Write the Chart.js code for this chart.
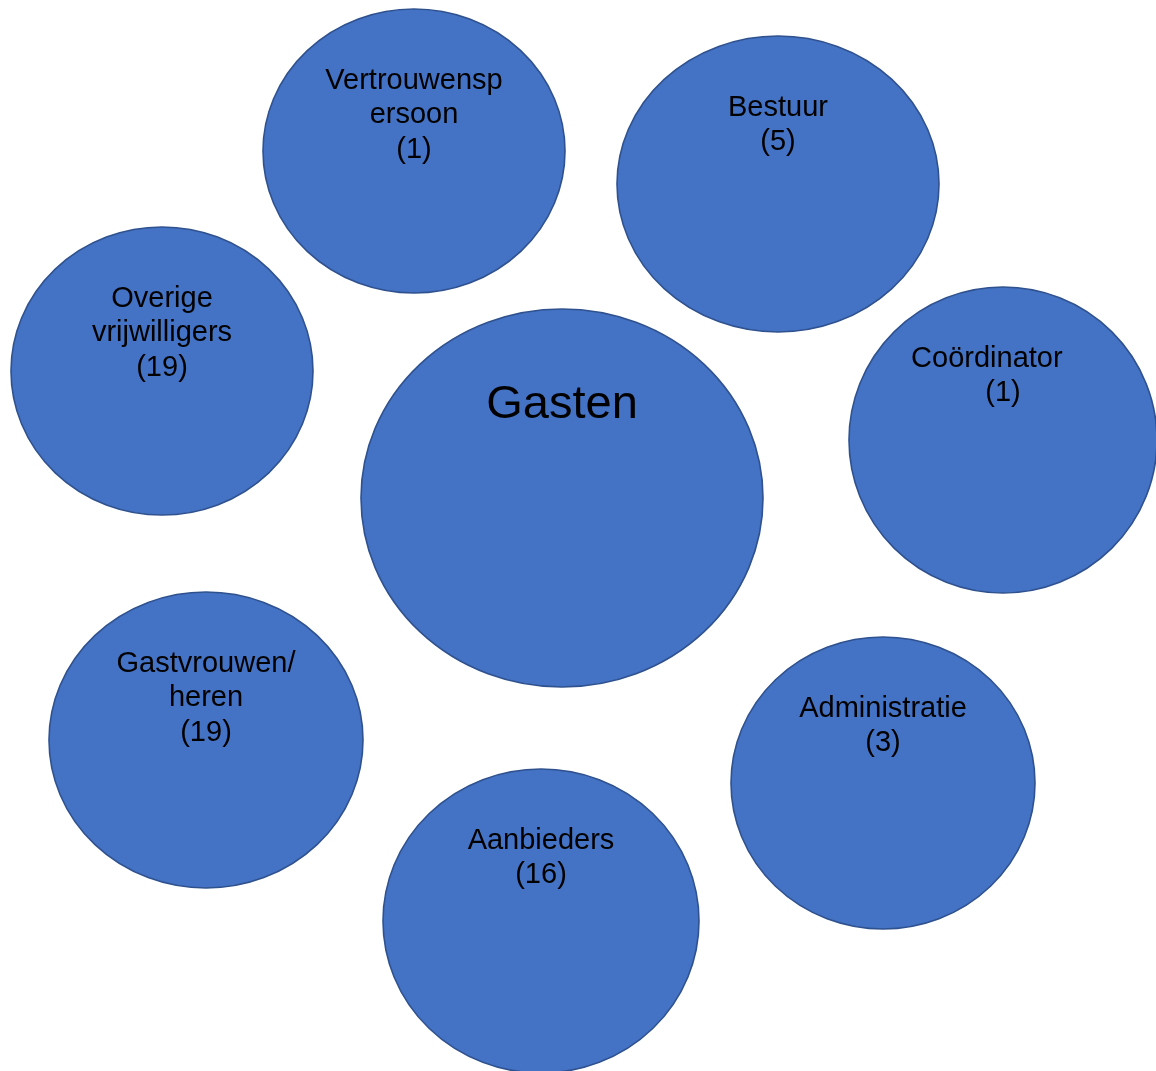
<!DOCTYPE html>
<html>
<head>
<meta charset="utf-8">
<script src="https://cdn.jsdelivr.net/npm/chart.js@4"></script>
<style>
  html, body { margin: 0; padding: 0; background: #fff; overflow: hidden; }
  #wrap { width: 1156px; height: 1071px; }
</style>
</head>
<body>
<div id="wrap"><canvas id="myChart" width="1156" height="1071"></canvas></div>
<script>
(() => {
  'use strict'

  // one bubble per group, in the picture's own units (x to the right, y down)
  const groups = ['Vertrouwenspersoon', 'Bestuur', 'Overige vrijwilligers', 'Gasten',
    'Coördinator', 'Gastvrouwen/heren', 'Administratie', 'Aanbieders']
  const counts = [1, 5, 19, null, 1, 19, 3, 16]
  const centerX = [414, 778, 162, 562, 1003, 206, 883, 541]
  const centerY = [151, 184, 371, 498, 440, 740, 783, 921]
  const radiusX = [151, 161, 151, 201, 154, 157, 152, 158]
  const radiusY = [142, 148, 144, 189, 153, 148, 146, 152]
  const labelLines = [
    ['Vertrouwensp', 'ersoon'],
    ['Bestuur'],
    ['Overige', 'vrijwilligers'],
    ['Gasten'],
    ['Coördinator\u00a0\u00a0\u00a0\u00a0'],
    ['Gastvrouwen/', 'heren'],
    ['Administratie'],
    ['Aanbieders']
  ]

  const ellipses = {
    id: 'ellipses',
    afterDatasetsDraw (chart) {
      const { ctx, scales: { x, y } } = chart
      const ds = chart.data.datasets[0]
      ctx.save()
      ds.data.forEach((d, i) => {
        const px = x.getPixelForValue(d.x)
        const py = y.getPixelForValue(d.y)
        const rx = Math.abs(x.getPixelForValue(d.x + d.rx) - px)
        const ry = Math.abs(y.getPixelForValue(d.y + d.ry) - py)
        ctx.beginPath()
        ctx.ellipse(px, py, rx, ry, 0, 0, Math.PI * 2)
        ctx.fillStyle = '#4472C4'
        ctx.fill()
        ctx.lineWidth = 1.6
        ctx.strokeStyle = '#2F528F'
        ctx.stroke()

        const big = d.count == null
        const lines = d.count == null ? d.lines : d.lines.concat('(' + d.count + ')')
        ctx.fillStyle = '#000'
        ctx.textAlign = 'center'
        ctx.textBaseline = 'middle'
        ctx.font = (big ? 47 : 29) + 'px "Liberation Sans", Arial, sans-serif'
        const top = py - ry + (big ? 96 : 71.5)
        lines.forEach((t, k) => ctx.fillText(t, px, top + k * 34.5))
      })
      ctx.restore()
    }
  }

  const ctx = document.getElementById('myChart')
  const myChart = new Chart(ctx, {
    type: 'scatter',
    data: {
      labels: groups,
      datasets: [{
        data: groups.map((g, i) => ({
          x: centerX[i],
          y: centerY[i],
          rx: radiusX[i],
          ry: radiusY[i],
          count: counts[i],
          lines: labelLines[i]
        })),
        pointRadius: 0,
        pointHoverRadius: 0
      }]
    },
    options: {
      responsive: false,
      animation: false,
      layout: { padding: 0 },
      scales: {
        x: { type: 'linear', min: 0, max: 1156, display: false },
        y: { type: 'linear', min: 0, max: 1071, reverse: true, display: false }
      },
      plugins: {
        legend: { display: false },
        tooltip: { enabled: false }
      }
    },
    plugins: [ellipses]
  })
})()
</script>
</body>
</html>
